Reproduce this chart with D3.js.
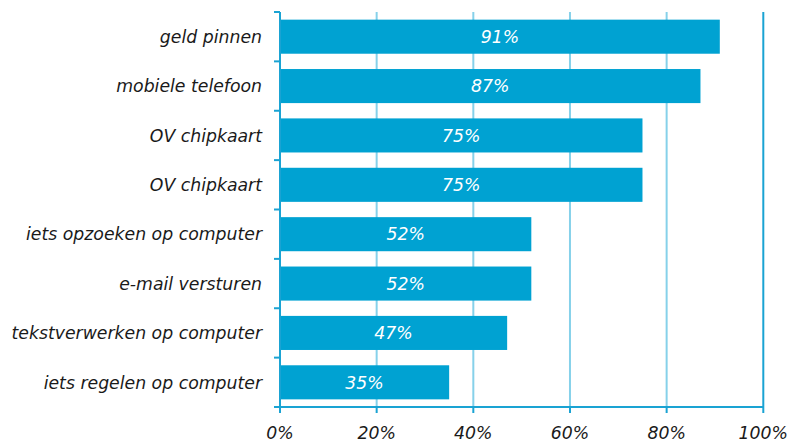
<!DOCTYPE html>
<html><head><meta charset="utf-8">
<script src="https://cdn.jsdelivr.net/npm/d3@7"></script>
<style>body{margin:0;background:#fff}svg{display:block}text{font-family:"DejaVu Sans",Verdana,sans-serif;font-style:italic}</style>
</head><body>
<svg id="c" width="791" height="442"></svg>
<script>
const categories = ["geld pinnen","mobiele telefoon","OV chipkaart","OV chipkaart","iets opzoeken op computer","e-mail versturen","tekstverwerken op computer","iets regelen op computer"];
const values = [91,87,75,75,52,52,47,35];
const tickValues = [0,20,40,60,80,100];
const tickLabels = ["0%","20%","40%","60%","80%","100%"];

(function(){
const svg = d3.select("#c");
const L = 280, R = 763.3, T = 12, B = 407;
const FS = 17.3;
const barColor = "#00A2D2", axisColor = "#1AA3D3", gridColor = "#86D1EA";
const x = d3.scaleLinear().domain([0,100]).range([L,R]);
const idx = categories.map((d,i)=>i);
const y = d3.scaleBand().domain(idx).range([T,B]).paddingInner(0.31).paddingOuter(0.155);

svg.append("g").selectAll("line").data(tickValues.filter(v=>v>0)).join("line")
  .attr("x1",d=>x(d)).attr("x2",d=>x(d)).attr("y1",T).attr("y2",B)
  .attr("stroke",d=>d===100?axisColor:gridColor).attr("stroke-width",2);

svg.append("g").selectAll("rect").data(idx).join("rect")
  .attr("x",x(0)).attr("y",i=>y(i)).attr("height",y.bandwidth())
  .attr("width",i=>x(values[i])-x(0)).attr("fill",barColor);

svg.append("g").selectAll("text").data(idx).join("text")
  .attr("x",i=>(x(0)+x(values[i]))/2).attr("y",i=>y(i)+y.bandwidth()/2)
  .attr("dy","0.36em").attr("text-anchor","middle").attr("fill","#fff")
  .attr("font-size",FS).text(i=>values[i]+"%");

const yb = d3.scaleLinear().domain([0,categories.length]).range([T,B]);
const ya = svg.append("g");
ya.append("line").attr("x1",L).attr("x2",L).attr("y1",T).attr("y2",B).attr("stroke",axisColor).attr("stroke-width",2);
ya.selectAll("line.t").data(d3.range(categories.length+1)).join("line").attr("class","t")
  .attr("x1",L-6).attr("x2",L).attr("y1",d=>yb(d)).attr("y2",d=>yb(d)).attr("stroke",axisColor).attr("stroke-width",2);
ya.selectAll("text").data(idx).join("text")
  .attr("x",L-18).attr("y",i=>y(i)+y.bandwidth()/2).attr("dy","0.36em")
  .attr("text-anchor","end").attr("fill","#1a1a1a").attr("font-size",FS).text(i=>categories[i]);

const xa = svg.append("g");
xa.append("line").attr("x1",L).attr("x2",R).attr("y1",B).attr("y2",B).attr("stroke",axisColor).attr("stroke-width",2);
xa.selectAll("line.t").data(tickValues).join("line").attr("class","t")
  .attr("x1",d=>x(d)).attr("x2",d=>x(d)).attr("y1",B).attr("y2",B+6).attr("stroke",axisColor).attr("stroke-width",2);
xa.selectAll("text").data(tickValues).join("text")
  .attr("x",d=>x(d)).attr("y",439).attr("text-anchor","middle").attr("fill","#1a1a1a")
  .attr("font-size",FS).text((d,i)=>tickLabels[i]);
})();
</script>
</body></html>
